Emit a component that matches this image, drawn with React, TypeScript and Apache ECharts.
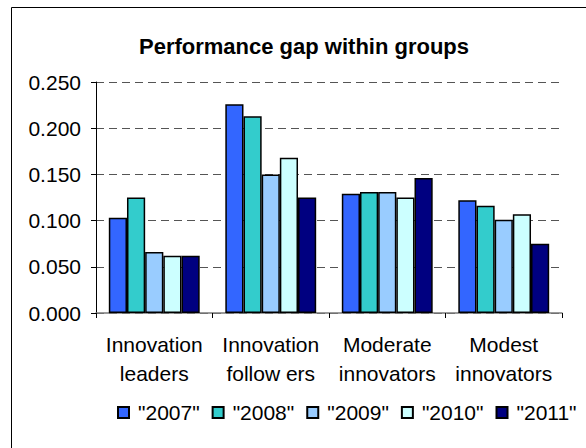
import React, { useEffect, useRef } from "react";
import * as echarts from "echarts";

const categories = ["Innovation\nleaders", "Innovation\nfollow ers", "Moderate\ninnovators", "Modest\ninnovators"];
const seriesNames = ['"2007"', '"2008"', '"2009"', '"2010"', '"2011"'];
const values2007 = [0.103, 0.226, 0.129, 0.122];
const values2008 = [0.125, 0.213, 0.131, 0.116];
const values2009 = [0.066, 0.150, 0.131, 0.101];
const values2010 = [0.062, 0.168, 0.125, 0.107];
const values2011 = [0.062, 0.125, 0.146, 0.075];
const colors = ["#3366FF", "#33CCCC", "#99CCFF", "#CCFFFF", "#000080"];
const yTicks = { min: 0, max: 0.25, interval: 0.05 };

export default function App() {
  const ref = useRef<HTMLDivElement>(null);
  useEffect(() => {
    if (!ref.current) return;
    const chart = echarts.init(ref.current, null, { renderer: "svg" });
    const allValues = [values2007, values2008, values2009, values2010, values2011];
    const font = "Liberation Sans, Arial, sans-serif";
    chart.setOption({
      animation: false,
      backgroundColor: "#fff",
      textStyle: { fontFamily: font },
      title: {
        text: "Performance gap within groups",
        left: 134,
        top: 30,
        textStyle: { fontSize: 22, fontWeight: "bold", color: "#000", fontFamily: font },
      },
      graphic: [
        {
          type: "rect",
          shape: { x: 11.5, y: 7.5, width: 800, height: 800 },
          style: { fill: "none", stroke: "#000", lineWidth: 1 },
          silent: true,
        },
      ],
      legend: {
        data: seriesNames,
        left: 112,
        top: 397,
        itemWidth: 11,
        itemHeight: 11,
        itemGap: 12,
        icon: "rect",
        textStyle: { fontSize: 21, color: "#000", padding: [0, 0, 0, 4], fontFamily: font },
      },
      grid: { left: 96, right: 24, top: 82, bottom: 135, containLabel: false },
      xAxis: {
        type: "category",
        data: categories,
        axisLine: { lineStyle: { color: "#7a7a7a", width: 1.5 } },
        axisTick: { show: true, length: 5, lineStyle: { color: "#000" } },
        axisLabel: { fontSize: 21, color: "#000", margin: 17, lineHeight: 29, interval: 0, fontFamily: font },
      },
      yAxis: {
        type: "value",
        min: yTicks.min,
        max: yTicks.max,
        interval: yTicks.interval,
        axisLine: { show: true, lineStyle: { color: "#000", width: 1 } },
        axisTick: { show: true, length: 5, lineStyle: { color: "#000" } },
        axisLabel: { fontSize: 21, color: "#000", margin: 15, fontFamily: font, formatter: (v: number) => v.toFixed(3) },
        splitLine: { show: true, lineStyle: { color: "#555", type: [8, 5], width: 1 } },
      },
      series: seriesNames.map((name, i) => ({
        name,
        type: "bar",
        data: allValues[i],
        barGap: "0%",
        barCategoryGap: "22%",
        itemStyle: { color: colors[i], borderColor: "#000", borderWidth: 1.5 },
      })),
    });
    return () => chart.dispose();
  }, []);
  return <div ref={ref} style={{ position: "fixed", left: 0, top: 0, width: 586, height: 448 }} />;
}
